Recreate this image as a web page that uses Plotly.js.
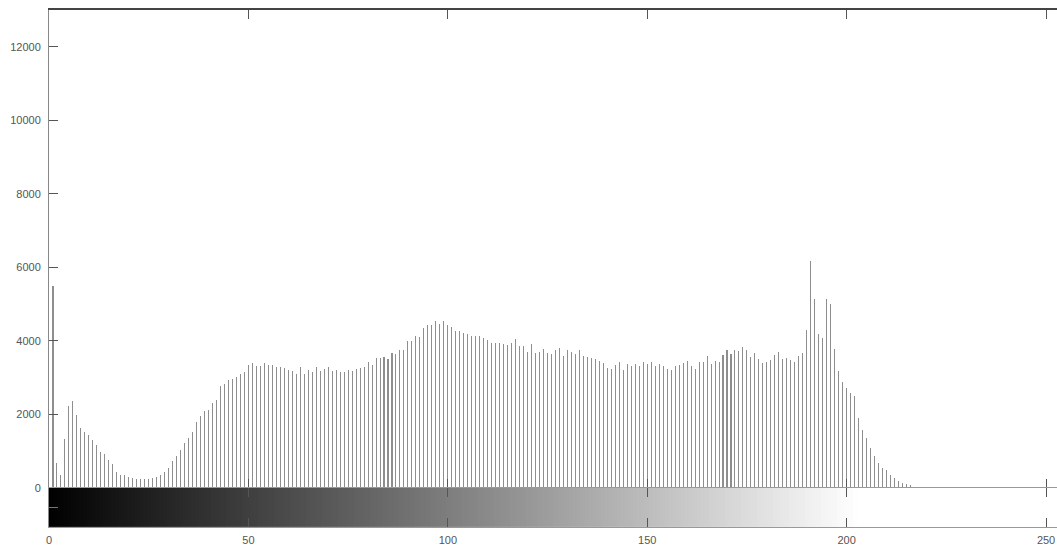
<!DOCTYPE html>
<html>
<head>
<meta charset="utf-8">
<script src="https://cdn.plot.ly/plotly-3.0.1.min.js"></script>
<style>
html,body{margin:0;padding:0;background:#fff;overflow:hidden;width:1057px;height:548px;}
#chart{width:1066px;height:548px;}
</style>
</head>
<body>
<div id="chart"></div>
<script>
// Histogram counts for gray levels 0..255
const counts = [
  0, 5480, 670, 355, 1320, 2220, 2370, 1970, 1640, 1530,
  1450, 1290, 1160, 970, 930, 770, 640, 430, 355, 355,
  290, 270, 245, 245, 245, 245, 270, 310, 365, 430,
  530, 720, 880, 1040, 1220, 1350, 1510, 1790, 1950, 2080,
  2110, 2300, 2400, 2760, 2840, 2930, 2970, 3030, 3100, 3140,
  3340, 3390, 3310, 3310, 3390, 3340, 3340, 3280, 3280, 3250,
  3200, 3180, 3100, 3280, 3100, 3210, 3140, 3280, 3180, 3230,
  3280, 3180, 3210, 3150, 3150, 3210, 3180, 3240, 3260, 3280,
  3420, 3340, 3530, 3530, 3550, 3500, 3660, 3640, 3760, 3740,
  4000, 4000, 4130, 4100, 4340, 4420, 4420, 4530, 4450, 4530,
  4420, 4390, 4260, 4280, 4210, 4180, 4130, 4130, 4130, 4070,
  4020, 3950, 3950, 3950, 3920, 3890, 3950, 4050, 3850, 3860,
  3710, 3920, 3680, 3710, 3790, 3680, 3650, 3760, 3810, 3600,
  3760, 3710, 3650, 3760, 3600, 3550, 3530, 3500, 3450, 3390,
  3250, 3240, 3340, 3420, 3210, 3360, 3310, 3360, 3310, 3420,
  3360, 3420, 3310, 3360, 3310, 3240, 3210, 3310, 3340, 3390,
  3450, 3310, 3240, 3420, 3420, 3580, 3360, 3450, 3420, 3610,
  3760, 3650, 3760, 3720, 3820, 3740, 3550, 3680, 3500, 3390,
  3420, 3470, 3610, 3710, 3500, 3530, 3470, 3420, 3580, 3680,
  4290, 6170, 5130, 4180, 4070, 5130, 5000, 3790, 3180, 2870,
  2710, 2580, 2510, 1890, 1580, 1370, 1090, 880, 690, 555,
  480, 355, 270, 200, 145, 118, 91, 36, 36, 36,
  0, 0, 0, 0, 0, 0, 0, 0, 0, 0,
  0, 0, 0, 0, 0, 0, 0, 0, 0, 0,
  0, 0, 0, 0, 0, 0, 0, 0, 0, 0,
  0, 0, 0, 0, 0, 0
];
// Gray levels (categories)
const levels = counts.map((_, i) => i);
const xTicks = [0, 50, 100, 150, 200, 250];
const xTickText = ['0', '50', '100', '150', '200', '250'];
const yTicks = [0, 2000, 4000, 6000, 8000, 10000, 12000];
const yTickText = ['0', '2000', '4000', '6000', '8000', '10000', '12000'];
const grayWhiteAt = 203;

const fontFam = 'Liberation Sans, Arial, Helvetica, sans-serif';
const split = 0.0756;

const traces = [
  {
    type: 'bar', x: levels, y: counts, xaxis: 'x', yaxis: 'y',
    width: 0.26, marker: {color: '#8e8e8e', line: {width: 0}},
    hoverinfo: 'x+y'
  },
  {
    type: 'heatmap', x: levels, y: [0.5], z: [levels],
    xaxis: 'x2', yaxis: 'y2', zmin: 0, zmax: grayWhiteAt,
    colorscale: [[0, '#000000'], [1, '#ffffff']],
    showscale: false, hoverinfo: 'skip'
  }
];

const layout = {
  width: 1066, height: 548,
  margin: {l: 49, r: 0, t: 10, b: 21, pad: 0},
  paper_bgcolor: '#ffffff', plot_bgcolor: '#ffffff',
  showlegend: false,
  bargap: 0,
  font: {family: fontFam, size: 11, color: '#555555'},
  xaxis: {
    anchor: 'y', range: [0, 255], tickvals: xTicks, ticktext: xTickText,
    showticklabels: false, ticks: 'inside', ticklen: 9, tickcolor: '#555',
    showline: true, linecolor: '#444', linewidth: 2, mirror: 'ticks',
    showgrid: false, zeroline: false
  },
  yaxis: {
    domain: [split, 1], range: [0, 13000], tickvals: yTicks, ticktext: yTickText,
    ticks: 'inside', ticklen: 9, tickcolor: '#555',
    showline: true, linecolor: '#888', linewidth: 1, mirror: 'ticks',
    showgrid: false, zeroline: false, ticklabelstandoff: 5
  },
  xaxis2: {
    anchor: 'y2', range: [0, 255], tickvals: xTicks, ticktext: xTickText,
    ticks: 'inside', ticklen: 9, tickcolor: '#555',
    showline: true, linecolor: '#999', linewidth: 1, mirror: 'ticks',
    showgrid: false, zeroline: false, ticklabelstandoff: 3
  },
  yaxis2: {
    domain: [0, split], range: [0, 1], tickvals: [0.5],
    showticklabels: false, ticks: 'inside', ticklen: 9, tickcolor: '#777',
    showline: true, linecolor: '#888', linewidth: 1, mirror: 'ticks',
    showgrid: false, zeroline: false
  }
};

Plotly.newPlot('chart', traces, layout, {displayModeBar: false, staticPlot: true});
</script>
</body>
</html>
